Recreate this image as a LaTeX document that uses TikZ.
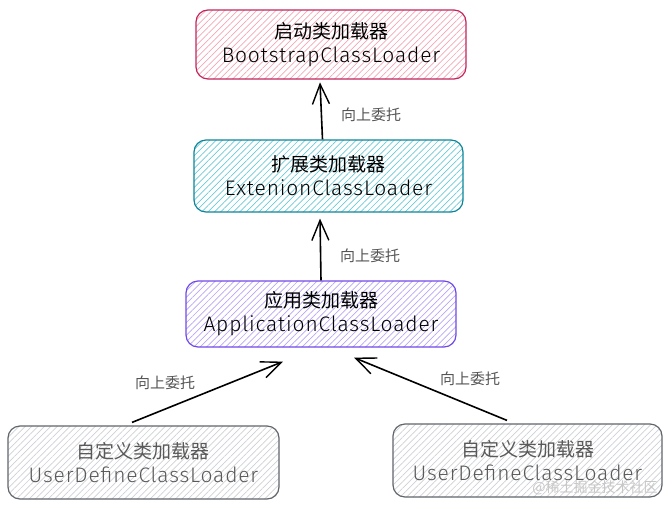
\documentclass[tikz,border=0pt]{standalone}
\usepackage{fontspec}
\setmainfont{Fira Sans}[UprightFont=* Light, LetterSpace=4]
\newfontfamily\cjk{Noto Sans CJK SC}
\usetikzlibrary{arrows.meta,patterns.meta}
\definecolor{pinkb}{HTML}{C2255C}
\definecolor{pinkf}{HTML}{F2A7B6}
\definecolor{tealb}{HTML}{0C8599}
\definecolor{tealf}{HTML}{6CC9D6}
\definecolor{violb}{HTML}{7048E8}
\definecolor{violf}{HTML}{B8A4F5}
\definecolor{grayb}{HTML}{60666C}
\definecolor{grayf}{HTML}{CDD1D5}
\definecolor{lbl}{HTML}{555555}
\tikzset{
  box/.style={rounded corners=12pt, line width=1.2pt, align=center, inner sep=0pt,
    font=\fontsize{21}{24}\selectfont},
  hatch/.style={pattern={Lines[angle=45,distance=4.5pt,line width=0.7pt]}, pattern color=#1},
  userbox/.style={box, draw=grayb, hatch=grayf, text=black!65, minimum height=73pt},
  arr/.style={line width=1.6pt, -{Straight Barb[length=20pt,width=17pt,line width=1.4pt]}},
  lab/.style={font=\cjk\fontsize{15}{17}\selectfont, text=lbl},
}
\newcommand\cnline[1]{{\cjk\fontsize{19}{24}\selectfont #1}}
\begin{document}
\begin{tikzpicture}[x=1pt,y=-1pt]
\useasboundingbox (0,0) rectangle (672,509);
\node[box, draw=pinkb, hatch=pinkf, minimum width=270pt, minimum height=69pt] (b1) at (331,44.5)
  {\cnline{启动类加载器}\\BootstrapClassLoader};
\node[box, draw=tealb, hatch=tealf, minimum width=269pt, minimum height=72pt] (b2) at (328.5,176)
  {\cnline{扩展类加载器}\\ExtenionClassLoader};
\node[box, draw=violb, hatch=violf, minimum width=270pt, minimum height=66pt] (b3) at (321,314)
  {\cnline{应用类加载器}\\ApplicationClassLoader};
\node[userbox, minimum width=271pt] (b4) at (143.5,462.5)
  {\cnline{自定义类加载器}\\UserDefineClassLoader};
\node[userbox, minimum width=269pt] (b5) at (527.5,460.5)
  {\cnline{自定义类加载器}\\UserDefineClassLoader};

\draw[arr] ([xshift=-6pt]b2.north) -- ([xshift=-11pt,yshift=-3pt]b1.south);
\draw[arr] ([xshift=0pt]b3.north) -- ([xshift=-8.5pt,yshift=-6pt]b2.south);
\draw[arr] ([xshift=-11.5pt,yshift=3pt]b4.north) -- ([xshift=-38pt,yshift=-14pt]b3.south);
\draw[arr] ([xshift=-20.5pt,yshift=3pt]b5.north) -- ([xshift=33pt,yshift=-10pt]b3.south);

\node[lab] (l1) at (371,115) {向上委托};
\node[lab] (l2) at (370,256) {向上委托};
\node[lab] (l3) at (165,383) {向上委托};
\node[lab] (l4) at (470,379) {向上委托};
\node[font=\cjk\fontsize{14}{16}\selectfont, text=black!22] (wm) at (595,488) {@稀土掘金技术社区};
\end{tikzpicture}
\end{document}
